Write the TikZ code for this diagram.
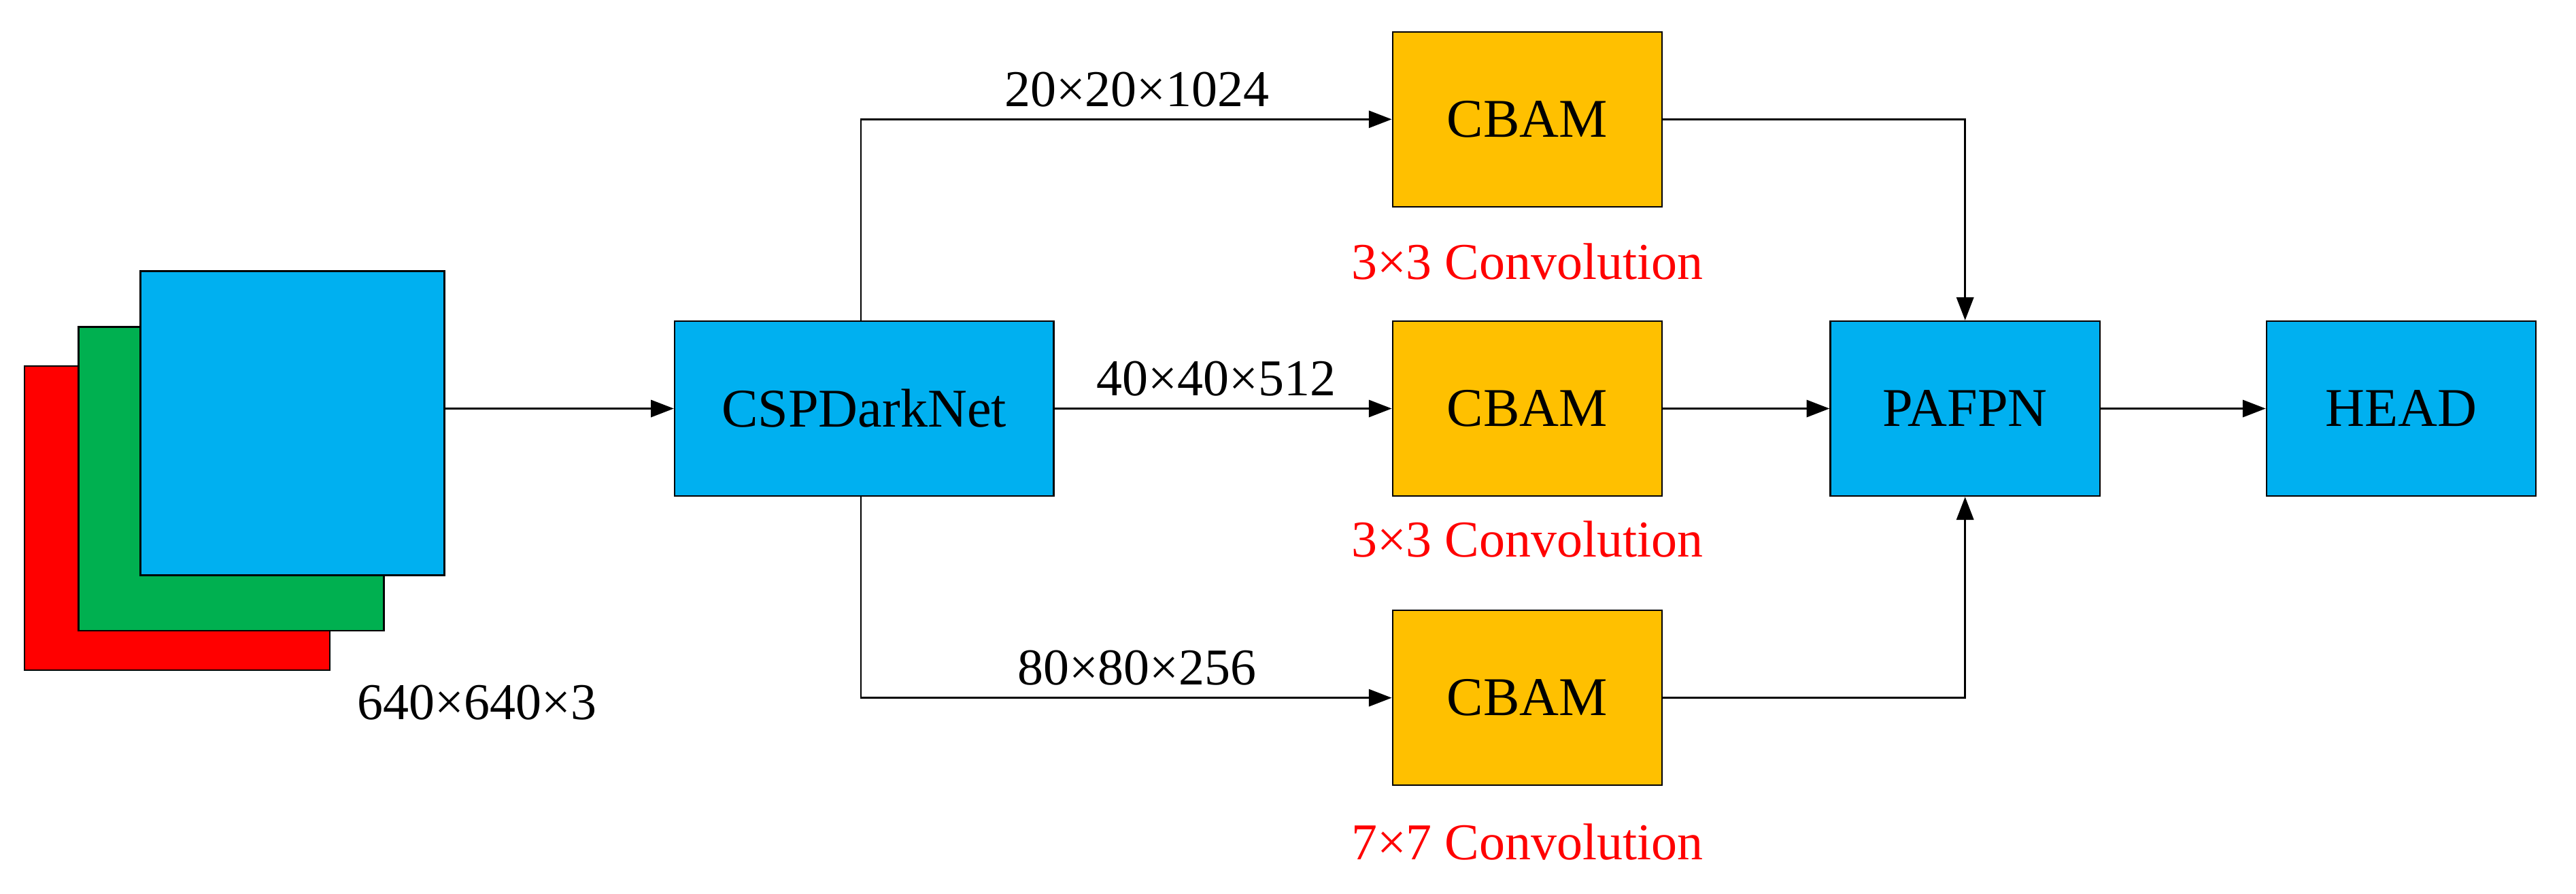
\documentclass[tikz,border=0pt]{standalone}
\usepackage{fontspec}
\setmainfont{Liberation Serif}
\usetikzlibrary{arrows.meta}
\definecolor{myblue}{HTML}{00B0F0}
\definecolor{myorange}{HTML}{FFC000}
\definecolor{mygreen}{HTML}{00B050}
\begin{document}
\begin{tikzpicture}[x=0.02cm,y=-0.02cm,
  box/.style={draw=black,line width=0.6pt,minimum width=3.3cm,minimum height=2.14cm,inner sep=0pt,font=\fontsize{19}{22}\selectfont},
  bl/.style={box,fill=myblue},
  cb/.style={box,fill=myorange},
  lab/.style={font=\fontsize{18}{21}\selectfont,inner sep=0pt},
  red/.style={lab,text=red},
  arr/.style={-{Triangle[length=8pt,width=6pt]},line width=0.6pt}]
\useasboundingbox (0,0) rectangle (1577,547);
\draw[fill=red,line width=0.6pt] (15,224) rectangle (202,410);
\draw[fill=mygreen,line width=0.6pt] (48,200) rectangle (235,386);
\draw[fill=myblue,line width=0.6pt] (86,166) rectangle (272,352);
\coordinate (img) at (272,250);
\node[lab] (dim) at (292,430) {640×640×3};
\node[bl,minimum width=4.64cm] (csp) at (529,250) {CSPDarkNet};
\node[cb] (c1) at (935,73) {CBAM};
\node[cb] (c2) at (935,250) {CBAM};
\node[cb] (c3) at (935,427) {CBAM};
\node[red] (r1) at (935,160) {3×3 Convolution};
\node[red] (r2) at (935,330) {3×3 Convolution};
\node[red] (r3) at (935,515) {7×7 Convolution};
\node[bl] (pa) at (1203,250) {PAFPN};
\node[bl] (hd) at (1470,250) {HEAD};
\coordinate (t1) at (527,73);
\coordinate (t3) at (527,427);
\coordinate (u1) at (1203,73);
\coordinate (u3) at (1203,427);
\draw[arr] (img) -- (csp);
\draw[arr] (csp.east) -- (c2) node[lab,pos=0.48,above=4pt] (l2) {40×40×512};
\draw[arr] (csp.north -| t1) -- (t1) -- (c1) node[lab,pos=0.52,above=4pt] (l1) {20×20×1024};
\draw[arr] (csp.south -| t3) -- (t3) -- (c3) node[lab,pos=0.52,above=4pt] (l3) {80×80×256};
\draw[arr] (c1) -- (u1) -- (pa);
\draw[arr] (c2) -- (pa);
\draw[arr] (c3) -- (u3) -- (pa);
\draw[arr] (pa) -- (hd);
\end{tikzpicture}
\end{document}
